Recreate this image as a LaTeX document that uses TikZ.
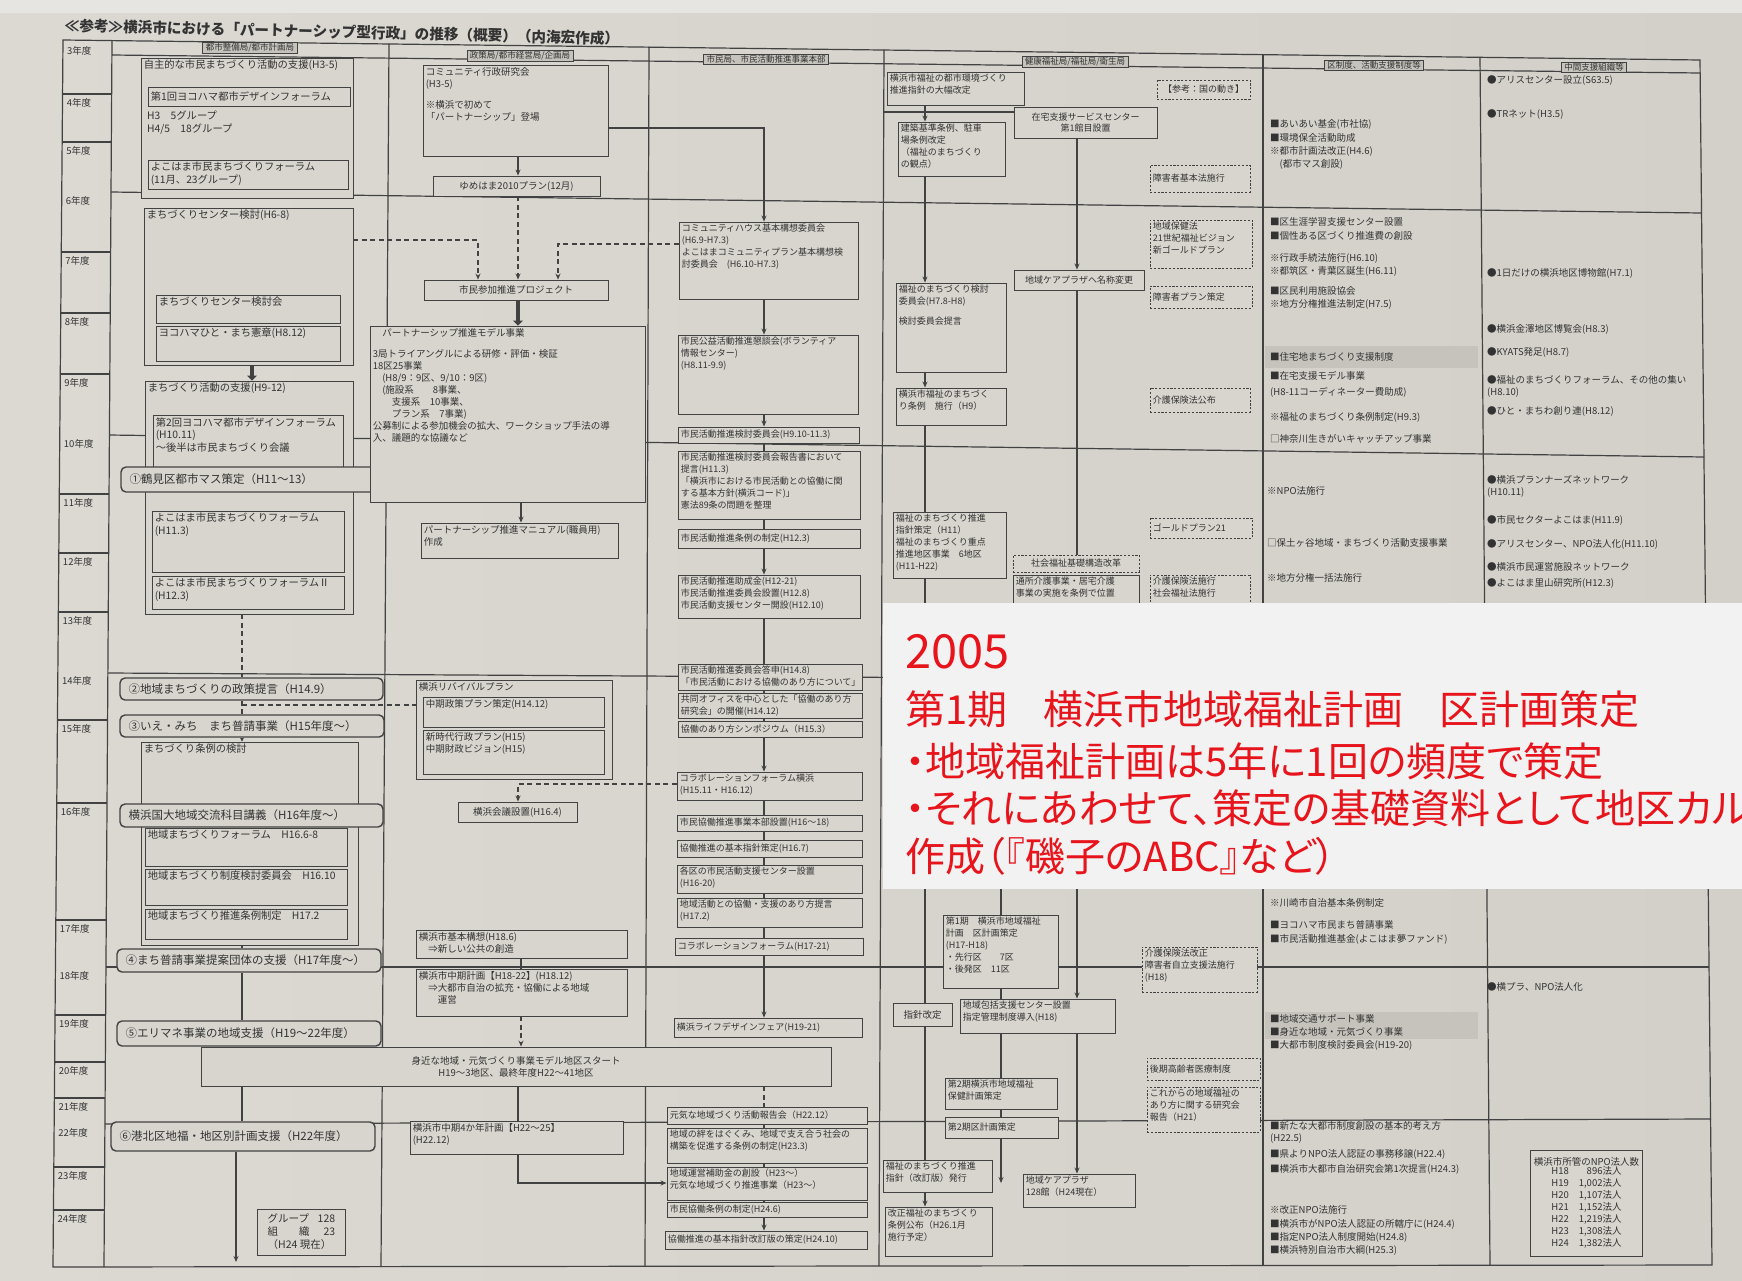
\documentclass[tikz,border=0pt]{standalone}
\usepackage{fontspec}
\setmainfont{Noto Sans CJK JP}
\newfontfamily\ovfont{Noto Sans CJK JP}[RawFeature=+palt]
\usetikzlibrary{arrows.meta}
\definecolor{paperA}{HTML}{DCD9D3}
\definecolor{paperB}{HTML}{D3D0C9}
\definecolor{paper}{HTML}{D8D5CE}
\definecolor{paperL}{HTML}{E6E5E1}
\definecolor{ink}{HTML}{333333}
\definecolor{lin}{HTML}{424242}
\definecolor{ovl}{HTML}{F2F2F2}
\definecolor{ovred}{HTML}{E8141C}
\definecolor{hl}{HTML}{C6C3BC}
\def\cfnt{\fontsize{9.5}{12}\selectfont}
\tikzset{
  tx/.style={text=ink,font=\cfnt,inner sep=0pt,align=left},
  bx/.style={draw=lin,line width=0.9pt,fill=paper,inner sep=0pt,text=ink,font=\cfnt},
  dbx/.style={dash pattern=on 2.2pt off 1.6pt},
  rbx/.style={bx,rounded corners=5pt,line width=1.4pt},
  gl/.style={draw=lin,line width=1.2pt},
  con/.style={draw=lin,line width=1.1pt},
  arr/.style={con,-{Stealth[length=6pt,width=5pt]}},
  sarr/.style={con,-{Stealth[length=4pt,width=4pt]}},
  dsh/.style={con,line width=1.4pt,dash pattern=on 5pt off 3.5pt},
  darr/.style={dsh,-{Stealth[length=6pt,width=5pt]}},
  tarr/.style={draw=lin,line width=4pt,-{Triangle[length=5pt,width=10pt]}},
  hd/.style={draw=lin,line width=0.7pt,fill=hl,inner xsep=3pt,inner ysep=1pt,text=ink,font=\fontsize{8.5}{10}\selectfont},
  yr/.style={text=ink,inner sep=0pt,anchor=north west,font=\fontsize{9.5}{11}\selectfont},
  ov/.style={text=ovred,inner sep=0pt,anchor=west,font=\fontsize{40}{48}\selectfont},
}
% top-left text box
\newcommand{\TB}[7][]{\node[bx,#1,minimum width={#5-#3},minimum height={#6-#4}] (#2) at ({(#3+#5)/2},{(#4+#6)/2}) {};
  \node[tx,anchor=north west] (#2-t) at ([shift={(3,2.5)}]#2.north west) {#7};}
% centred text box
\newcommand{\CB}[7][]{\node[bx,#1,align=center,minimum width={#5-#3},minimum height={#6-#4}] (#2) at ({(#3+#5)/2},{(#4+#6)/2}) {#7};}
% left, vertically centred text box
\newcommand{\LB}[7][]{\node[bx,#1,minimum width={#5-#3},minimum height={#6-#4}] (#2) at ({(#3+#5)/2},{(#4+#6)/2}) {};
  \node[tx,anchor=west] (#2-t) at ([xshift=3]#2.west) {#7};}
% rounded call-out
\newcommand{\RB}[6]{\node[rbx,minimum width={#4-#2},minimum height={#5-#3}] (#1) at ({(#2+#4)/2},{(#3+#5)/2}) {};
  \node[tx,anchor=west,font=\fontsize{11.5}{13}\selectfont] (#1-t) at ([xshift=9]#1.west) {#6};}
% free text
\newcommand{\TX}[3]{\node[tx,anchor=west] (#1) at (#2) {#3};}

\begin{document}
\begin{tikzpicture}[x=1pt,y=-1pt]
\useasboundingbox (0,0) rectangle (1742,1280);
\clip (0,0) rectangle (1742,1280);
\shade[left color=paperA,right color=paperB] (0,0) rectangle (1742,1280);
\fill[paperL] (0,0) rectangle (1742,13);

% ---------------- grid ----------------
\draw[gl] (63,40) -- (1700,60) -- (1712,1265) -- (53,1267) -- cycle;
\draw[gl] (112,40.5) -- (104,1267);
\draw[gl] (389,43.5) -- (381,1267);
\draw[gl] (649,46.5) -- (645,1266.5);
\draw[gl] (884,49.5) -- (879,1266);
\draw[gl] (1263,54) -- (1263,1265.5);
\draw[gl] (1480,57) -- (1490,1265);
\draw[gl] (112,55) -- (1700,73);
\draw[gl] (111,192) -- (1701,213);
\draw[gl] (109.5,435) -- (1704,457);
\draw[gl] (108,673) -- (1706,682);
\draw[gl] (106,967) -- (1709,967);
\draw[gl] (105,1124) -- (1711,1119);
\foreach \yy in {94,142,252,313,374,494,553,612,720,803,920,1015,1062,1098,1167,1210}
  \draw[gl] ({63-0.0082*(\yy-40)},\yy) -- ({112-0.0065*(\yy-40)},\yy);
\foreach \yy/\lab [count=\i] in {42/3,94/4,142/5,192/6,252/7,313/8,374/9,435/10,494/11,553/12,612/13,672/14,720/15,803/16,920/17,967/18,1015/19,1062/20,1098/21,1124/22,1167/23,1210/24}
  \node[yr] (yr\i) at ({67-0.0082*(\yy-40)},{\yy+4}) {\lab 年度};

% title and column heads
\node[text=ink,inner sep=0pt,rotate=-1.35,font=\fontsize{14.6}{16}\selectfont\bfseries] (title) at (342,32) {≪参考≫横浜市における「パートナーシップ型行政」の推移（概要）（内海宏作成）};
\node[hd] (h1) at (250,48) {都市整備局/都市計画局};
\node[hd] (h2) at (520,56) {政策局/都市経営局/企画局};
\node[hd] (h3) at (766,59) {市民局、市民活動推進事業本部};
\node[hd] (h4) at (1075,62) {健康福祉局/福祉局/衛生局};
\node[hd] (h5) at (1374,65) {区制度、活動支援制度等};
\node[hd] (h6) at (1594,67) {中間支援組織等};

% ---------------- column 1 ----------------
\def\cfnt{\fontsize{10.3}{12.6}\selectfont}
\TB{B1}{141}{58}{353}{198}{自主的な市民まちづくり活動の支援(H3-5)}
\LB{B1a}{148}{87}{350}{106}{第1回ヨコハマ都市デザインフォーラム}
\node[tx,anchor=north west] (B1c) at (147,111) {H3　5グループ\\H4/5　18グループ};
\TB{B1b}{148}{160}{348}{189}{よこはま市民まちづくりフォーラム\\(11月、23グループ)}
\TB{B2}{144}{208}{353}{365}{まちづくりセンター検討(H6-8)}
\TB{B2a}{156}{295}{340}{323}{まちづくりセンター検討会}
\TB{B2b}{156}{326}{340}{361}{ヨコハマひと・まち憲章(H8.12)}
\TB{B3}{145}{381}{353}{614}{まちづくり活動の支援(H9-12)}
\TB{B3a}{153}{415}{343}{467}{第2回ヨコハマ都市デザインフォーラム\\(H10.11)\\〜後半は市民まちづくり会議}
\RB{C1}{121}{467}{383}{492}{①鶴見区都市マス策定（H11〜13）}
\TB{B3b}{152}{511}{344}{572}{よこはま市民まちづくりフォーラム\\(H11.3)}
\TB{B3c}{152}{576}{344}{609}{よこはま市民まちづくりフォーラムⅡ\\(H12.3)}
\RB{C2}{120}{678}{383}{700}{②地域まちづくりの政策提言（H14.9）}
\RB{C3}{120}{715}{384}{737}{③いえ・みち　まち普請事業（H15年度〜）}
\TB{B4}{141}{742}{358}{945}{まちづくり条例の検討}
\RB{C4}{120}{804}{383}{827}{横浜国大地域交流科目講義（H16年度〜）}
\TB{B4a}{145}{828}{347}{866}{地域まちづくりフォーラム　H16.6-8}
\TB{B4b}{145}{869}{347}{905}{地域まちづくり制度検討委員会　H16.10}
\TB{B4c}{145}{909}{347}{939}{地域まちづくり推進条例制定　H17.2}
\RB{C5}{117}{949}{381}{972}{④まち普請事業提案団体の支援（H17年度〜）}
\RB{C6}{117}{1021}{381}{1046}{⑤エリマネ事業の地域支援（H19〜22年度）}
\def\cfnt{\fontsize{9.5}{12}\selectfont}
\CB{BIG}{201}{1047}{831}{1086}{身近な地域・元気づくり事業モデル地区スタート\\H19〜3地区、最終年度H22〜41地区}
\RB{C7}{111}{1122}{375}{1151}{⑥港北区地福・地区別計画支援（H22年度）}
\node[bx,anchor=north west,minimum width=88,minimum height=46,font=\fontsize{10.5}{13}\selectfont] (B5) at (257,1209) {\begin{tabular}{@{}l@{\hspace{8pt}}r@{}}グループ&128\\組　　織&23\\\multicolumn{2}{@{}l@{}}{（H24 現在）}\end{tabular}};
\coordinate (endA) at (236,1262);

% ---------------- column 2 ----------------
\TB{D1}{423}{65}{608}{156}{コミュニティ行政研究会\\(H3-5)\\[9pt]※横浜で初めて\\「パートナーシップ」登場}
\CB{D2}{433}{176}{600}{196}{ゆめはま2010プラン(12月)}
\CB{D3}{424}{280}{608}{300}{市民参加推進プロジェクト}
\TB{D4}{370}{326}{645}{502}{　パートナーシップ推進モデル事業\\[9pt]3局トライアングルによる研修・評価・検証\\18区25事業\\　(H8/9：9区、9/10：9区)\\　(施設系　　8事業、\\　　支援系　10事業、\\　　プラン系　7事業)\\公募制による参加機会の拡大、ワークショップ手法の導\\入、議題的な協議など}
\TB{D5}{421}{523}{618}{558}{パートナーシップ推進マニュアル(職員用)\\作成}
\TB{R}{416}{680}{612}{779}{横浜リバイバルプラン}
\TB{Ra}{423}{697}{604}{727}{中期政策プラン策定(H14.12)}
\TB{Rb}{423}{730}{604}{774}{新時代行政プラン(H15)\\中期財政ビジョン(H15)}
\CB{D6}{458}{802}{577}{822}{横浜会議設置(H16.4)}
\TB{D7}{416}{930}{627}{958}{横浜市基本構想(H18.6)\\　⇒新しい公共の創造}
\TB{D8}{416}{969}{627}{1016}{横浜市中期計画【H18-22】(H18.12)\\　⇒大都市自治の拡充・協働による地域\\　　運営}
\TB{D9}{410}{1121}{623}{1154}{横浜市中期4か年計画【H22〜25】\\(H22.12)}

% ---------------- column 3 ----------------
\def\cfnt{\fontsize{9}{11.8}\selectfont}
\TB{E1}{679}{222}{858}{299}{コミュニティハウス基本構想委員会\\(H6.9-H7.3)\\よこはまコミュニティプラン基本構想検\\討委員会　(H6.10-H7.3)}
\TB{E2}{678}{335}{858}{414}{市民公益活動推進懇談会(ボランティア\\情報センター)\\(H8.11-9.9)}
\LB{E3}{678}{427}{859}{443}{市民活動推進検討委員会(H9.10-11.3)}
\TB{E4}{678}{451}{860}{519}{市民活動推進検討委員会報告書において\\提言(H11.3)\\「横浜市における市民活動との協働に関\\する基本方針(横浜コード)」\\憲法89条の問題を整理}
\LB{E5}{678}{529}{860}{548}{市民活動推進条例の制定(H12.3)}
\TB{E6}{678}{575}{860}{618}{市民活動推進助成金(H12-21)\\市民活動推進委員会設置(H12.8)\\市民活動支援センター開設(H12.10)}
\TB{E7}{678}{664}{862}{690}{市民活動推進委員会答申(H14.8)\\「市民活動における協働のあり方について」}
\TB{E8}{678}{693}{862}{718}{共同オフィスを中心とした「協働のあり方\\研究会」の開催(H14.12)}
\LB{E9}{678}{721}{862}{737}{協働のあり方シンポジウム（H15.3）}
\TB{E10}{677}{772}{862}{800}{コラボレーションフォーラム横浜\\(H15.11・H16.12)}
\LB{E11}{677}{815}{862}{831}{市民協働推進事業本部設置(H16〜18)}
\LB{E12}{677}{840}{862}{857}{協働推進の基本指針策定(H16.7)}
\TB{E13}{677}{865}{862}{893}{各区の市民活動支援センター設置\\(H16-20)}
\TB{E14}{677}{898}{862}{927}{地域活動との協働・支援のあり方提言\\(H17.2)}
\LB{E15}{675}{938}{863}{955}{コラボレーションフォーラム(H17-21)}
\LB{E16}{674}{1018}{862}{1037}{横浜ライフデザインフェア(H19-21)}
\LB{E17a}{667}{1107}{867}{1124}{元気な地域づくり活動報告会（H22.12）}
\TB{E17b}{667}{1128}{867}{1163}{地域の絆をはぐくみ、地域で支え合う社会の\\構築を促進する条例の制定(H23.3)}
\TB{E17c}{667}{1167}{867}{1200}{地域運営補助金の創設（H23〜）\\元気な地域づくり推進事業（H23〜）}
\LB{E17d}{667}{1202}{867}{1217}{市民協働条例の制定(H24.6)}
\LB{E17e}{665}{1231}{867}{1249}{協働推進の基本指針改訂版の策定(H24.10)}

% ---------------- column 4 ----------------
\TB{F1}{887}{72}{1024}{105}{横浜市福祉の都市環境づくり\\推進指針の大幅改定}
\CB{F2}{1014}{107}{1157}{138}{在宅支援サービスセンター\\第1館目設置}
\CB[dbx]{G1}{1157}{80}{1250}{99}{【参考：国の動き】}
\TB{F3}{898}{122}{1005}{176}{建築基準条例、駐車\\場条例改定\\（福祉のまちづくり\\の観点）}
\LB[dbx]{G2}{1150}{165}{1250}{192}{障害者基本法施行}
\TB[dbx]{G3}{1150}{220}{1252}{268}{地域保健法\\21世紀福祉ビジョン\\新ゴールドプラン}
\CB{F4}{1014}{270}{1144}{290}{地域ケアプラザへ名称変更}
\LB[dbx]{G4}{1150}{286}{1252}{308}{障害者プラン策定}
\TB{F5}{896}{283}{1006}{372}{福祉のまちづくり検討\\委員会(H7.8-H8)\\[8pt]検討委員会提言}
\TB{F6}{896}{388}{1006}{425}{横浜市福祉のまちづく\\り条例　施行（H9）}
\LB[dbx]{G5}{1150}{388}{1250}{412}{介護保険法公布}
\TB{F7}{893}{512}{1006}{578}{福祉のまちづくり推進\\指針策定（H11）\\福祉のまちづくり重点\\推進地区事業　6地区\\(H11-H22)}
\LB[dbx]{G6}{1150}{518}{1252}{538}{ゴールドプラン21}
\CB[dbx]{G7}{1013}{555}{1139}{572}{社会福祉基礎構造改革}
\TB{F8}{1013}{575}{1139}{612}{通所介護事業・居宅介護\\事業の実施を条例で位置}
\TB[dbx]{G8}{1150}{575}{1250}{612}{介護保険法施行\\社会福祉法施行}
\TB{H1}{943}{915}{1058}{988}{第1期　横浜市地域福祉\\計画　区計画策定\\(H17-H18)\\・先行区　　7区\\・後発区　11区}
\TB{H3}{960}{999}{1115}{1033}{地域包括支援センター設置\\指定管理制度導入(H18)}
\TB{H4}{945}{1078}{1057}{1109}{第2期横浜市地域福祉\\保健計画策定}
\LB{H4b}{945}{1117}{1058}{1138}{第2期区計画策定}
\TB{H6}{1023}{1174}{1135}{1207}{地域ケアプラザ\\128館（H24現在）}
\TB{H5}{883}{1160}{992}{1192}{福祉のまちづくり推進\\指針（改訂版）発行}
\TB{H7}{885}{1207}{992}{1256}{改正福祉のまちづくり\\条例公布（H26.1月\\施行予定）}
\TB[dbx]{G9}{1142}{947}{1257}{992}{介護保険法改正\\障害者自立支援法施行\\(H18)}
\LB[dbx]{G10}{1147}{1058}{1260}{1080}{後期高齢者医療制度}
\TB[dbx]{G11}{1147}{1087}{1260}{1132}{これからの地域福祉の\\あり方に関する研究会\\報告（H21）}

% ---------------- column 5 ----------------
\def\cfnt{\fontsize{9.5}{12}\selectfont}
\fill[hl] (1265,346) rectangle (1478,368);
\fill[hl] (1265,1012) rectangle (1478,1039);
\TX{I1}{1270,124}{■あいあい基金(市社協)}
\TX{I2}{1270,138}{■環境保全活動助成}
\TX{I3}{1270,151}{※都市計画法改正(H4.6)}
\TX{I4}{1270,164}{　(都市マス創設)}
\TX{I5}{1270,222}{■区生涯学習支援センター設置}
\TX{I6}{1270,236}{■個性ある区づくり推進費の創設}
\TX{I7}{1270,258}{※行政手続法施行(H6.10)}
\TX{I8}{1270,271}{※都筑区・青葉区誕生(H6.11)}
\TX{I9}{1270,291}{■区民利用施設協会}
\TX{I10}{1270,304}{※地方分権推進法制定(H7.5)}
\TX{I11}{1270,357}{■住宅地まちづくり支援制度}
\TX{I12}{1270,376}{■在宅支援モデル事業}
\TX{I13}{1270,392}{(H8-11コーディネーター費助成)}
\TX{I14}{1270,417}{※福祉のまちづくり条例制定(H9.3)}
\TX{I15}{1270,439}{□神奈川生きがいキャッチアップ事業}
\TX{I16}{1267,491}{※NPO法施行}
\TX{I17}{1267,543}{□保土ヶ谷地域・まちづくり活動支援事業}
\TX{I18}{1267,578}{※地方分権一括法施行}
\TX{I19}{1270,903}{※川崎市自治基本条例制定}
\TX{I20}{1270,925}{■ヨコハマ市民まち普請事業}
\TX{I21}{1270,939}{■市民活動推進基金(よこはま夢ファンド)}
\TX{I22}{1270,1019}{■地域交通サポート事業}
\TX{I23}{1270,1032}{■身近な地域・元気づくり事業}
\TX{I24}{1270,1045}{■大都市制度検討委員会(H19-20)}
\TX{I25}{1270,1126}{■新たな大都市制度創設の基本的考え方}
\TX{I26}{1270,1139}{(H22.5)}
\TX{I27}{1270,1154}{■県よりNPO法人認証の事務移譲(H22.4)}
\TX{I28}{1270,1169}{■横浜市大都市自治研究会第1次提言(H24.3)}
\TX{I29}{1270,1210}{※改正NPO法施行}
\TX{I30}{1270,1224}{■横浜市がNPO法人認証の所轄庁に(H24.4)}
\TX{I31}{1270,1237}{■指定NPO法人制度開始(H24.8)}
\TX{I32}{1270,1250}{■横浜特別自治市大綱(H25.3)}

% ---------------- column 6 ----------------
\TX{J1}{1487,80}{●アリスセンター設立(S63.5)}
\TX{J2}{1487,114}{●TRネット(H3.5)}
\TX{J3}{1487,273}{●1日だけの横浜地区博物館(H7.1)}
\TX{J4}{1487,329}{●横浜金澤地区博覧会(H8.3)}
\TX{J5}{1487,352}{●KYATS発足(H8.7)}
\TX{J6}{1487,380}{●福祉のまちづくりフォーラム、その他の集い}
\TX{J7}{1487,393}{(H8.10)}
\TX{J8}{1487,411}{●ひと・まちわ創り連(H8.12)}
\TX{J9}{1487,480}{●横浜プランナーズネットワーク}
\TX{J10}{1487,493}{(H10.11)}
\TX{J11}{1487,520}{●市民セクターよこはま(H11.9)}
\TX{J12}{1487,544}{●アリスセンター、NPO法人化(H11.10)}
\TX{J13}{1487,567}{●横浜市民運営施設ネットワーク}
\TX{J14}{1487,583}{●よこはま里山研究所(H12.3)}
\TX{J15}{1487,987}{●横プラ、NPO法人化}
\node[bx,anchor=north west,minimum width=112,minimum height=106,align=center] (K) at (1530,1150) {横浜市所管のNPO法人数\\[-1pt]\begin{tabular}{@{}l@{\hspace{10pt}}r@{}}H18&896法人\\H19&1,002法人\\H20&1,107法人\\H21&1,152法人\\H22&1,219法人\\H23&1,308法人\\H24&1,382法人\end{tabular}};

% ---------------- connectors ----------------
\coordinate (xa) at (242,0);
\coordinate (xg) at (252,0);
\coordinate (xb) at (518,0);
\coordinate (xj) at (521,0);
\coordinate (xh) at (478,0);
\coordinate (xi) at (558,0);
\coordinate (xc) at (764,0);
\coordinate (xd) at (925,0);
\coordinate (xe) at (1077,0);
\coordinate (xf) at (1001,0);
\coordinate (y128) at (0,128);
\coordinate (y240) at (0,240);
\coordinate (y244) at (0,244);
\coordinate (y705) at (0,705);
\coordinate (y784) at (0,784);
\coordinate (y1183) at (0,1183);
\coordinate (c4l) at (884,112);
\coordinate (hf) at (1001,880);
\coordinate (h4e) at (1001,1183);

\draw[tarr] (B2.south -| xg) -- (B3.north -| xg);
\draw[dsh] (B3.south -| xa) -- (C2.north -| xa);
\draw[dsh] (C2.south -| xa) -- (C3.north -| xa);
\draw[dsh] (xa |- y705) -- (R.west |- y705);
\draw[sarr] (C3.south -| xa) -- (B4.north -| xa);
\draw[con] (B4.south -| xa) -- (C5.north -| xa);
\draw[con] (C5.south -| xa) -- (C6.north -| xa);
\draw[con] (C6.south -| xa) -- (BIG.north -| xa);
\draw[con] (BIG.south -| xa) -- (C7.north -| xa);
\draw[arr] (C7.south -| endA) -- (endA);

\draw[arr] (D1.south -| xb) -- (D2.north -| xb);
\draw[arr] (D1.east |- y128) -- (xc |- y128) -- (E1.north -| xc);
\draw[darr] (D2.south -| xb) -- (D3.north -| xb);
\draw[darr] (B2.east |- y240) -- (xh |- y240) -- (D3.north -| xh);
\draw[darr] (E1.west |- y244) -- (xi |- y244) -- (D3.north -| xi);
\draw[tarr] (D3.south -| xb) -- (D4.north -| xb);
\draw[arr] (D4.south -| xj) -- (D5.north -| xj);
\draw[darr] (E10.west |- y784) -- (xb |- y784) -- (D6.north -| xb);
\draw[con] (D7.south -| xj) -- (D8.north -| xj);
\draw[darr] (D8.south -| xj) -- (BIG.north -| xj);
\draw[con] (BIG.south -| xb) -- (D9.north -| xb);
\draw[arr] (D9.south -| xb) -- (xb |- y1183) -- (E17c.west |- y1183);

\draw[arr] (E1.south -| xc) -- (E2.north -| xc);
\draw[arr] (E2.south -| xc) -- (E3.north -| xc);
\draw[con] (E3.south -| xc) -- (E4.north -| xc);
\draw[con] (E4.south -| xc) -- (E5.north -| xc);
\draw[arr] (E5.south -| xc) -- (E6.north -| xc);
\draw[con] (E6.south -| xc) -- (E7.north -| xc);
\draw[con] (E7.south -| xc) -- (E8.north -| xc);
\draw[con] (E8.south -| xc) -- (E9.north -| xc);
\draw[arr] (E9.south -| xc) -- (E10.north -| xc);
\draw[con] (E10.south -| xc) -- (E11.north -| xc);
\draw[con] (E11.south -| xc) -- (E12.north -| xc);
\draw[con] (E12.south -| xc) -- (E13.north -| xc);
\draw[con] (E13.south -| xc) -- (E14.north -| xc);
\draw[con] (E14.south -| xc) -- (E15.north -| xc);
\draw[arr] (E15.south -| xc) -- (E16.north -| xc);
\draw[dsh] (BIG.south -| xc) -- (E17a.north -| xc);
\draw[con] (E17a.south -| xc) -- (E17b.north -| xc);
\draw[con] (E17b.south -| xc) -- (E17c.north -| xc);
\draw[con] (E17c.south -| xc) -- (E17d.north -| xc);
\draw[arr] (E17d.south -| xc) -- (E17e.north -| xc);

\draw[con] (c4l) -- (F2.west |- c4l);
\draw[arr] (F1.south -| xd) -- (F3.north -| xd);
\draw[arr] (F3.south -| xd) -- (F5.north -| xd);
\draw[arr] (F5.south -| xd) -- (F6.north -| xd);
\draw[con] (F6.south -| xd) -- (F7.north -| xd);
\draw[con] (F7.south -| xd) -- (H5.north -| xd);
\draw[arr] (F2.south -| xe) -- (F4.north -| xe);
\draw[con] (F4.south -| xe) -- (G7.north -| xe);
\draw[arr] (F8.south -| xe) -- (H3.north -| xe);
\draw[con] (hf) -- (H1.north -| xf);
\draw[con] (H1.south -| xf) -- (H3.north -| xf);
\draw[con] (H3.south -| xf) -- (H4.north -| xf);
\draw[con] (H4.south -| xf) -- (H4b.north -| xf);
\draw[arr] (H4b.south -| xf) -- (h4e);
\draw[arr] (H3.south -| xe) -- (H6.north -| xe);
\draw[arr] (H5.south -| xd) -- (H7.north -| xd);
\CB{H2}{893}{1003}{952}{1026}{指針改定}

% ---------------- overlay ----------------
\fill[ovl] (883,603) rectangle (1742,889);
\node[ov,font=\fontsize{47}{50}\selectfont] (o1) at (905,652) {2005};
\node[ov] (o2) at (905,709) {第1期\hspace{0.9em}横浜市地域福祉計画\hspace{0.9em}区計画策定};
\node[ov,font=\ovfont\fontsize{40}{48}\selectfont] (o3) at (905,761) {・地域福祉計画は5年に1回の頻度で策定};
\node[ov,font=\ovfont\fontsize{40}{48}\selectfont] (o4) at (905,808) {・それにあわせて、策定の基礎資料として地区カル};
\node[ov,font=\ovfont\fontsize{40}{48}\selectfont] (o5) at (905,856) {作成（『磯子のABC』など）};
\end{tikzpicture}
\end{document}
